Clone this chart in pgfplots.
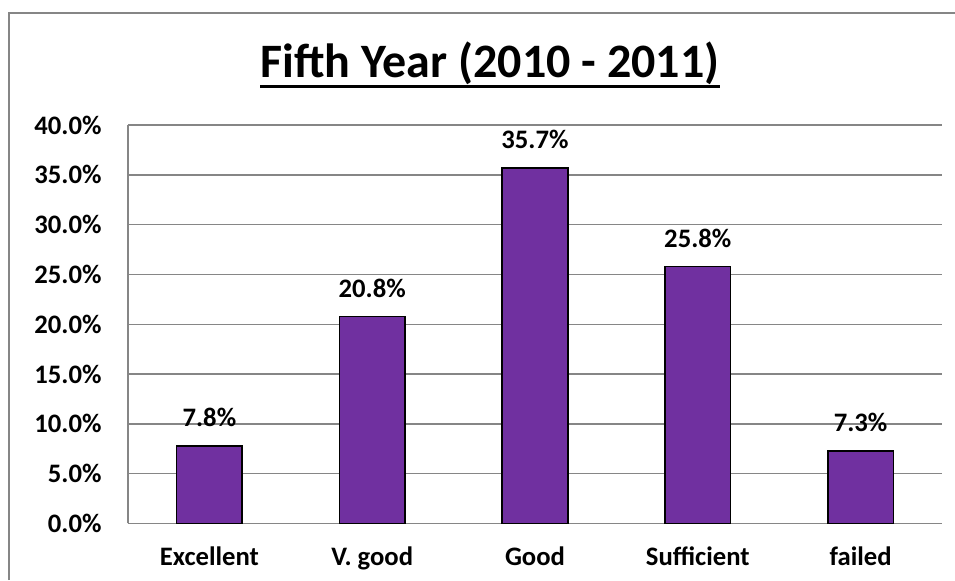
\documentclass[border=0pt]{standalone}
\usepackage{pgfplots}
\pgfplotsset{compat=1.18}
\usepackage{fontspec}
\setmainfont{Carlito}
\definecolor{barpurple}{HTML}{7030A0}
\definecolor{gridgray}{HTML}{868686}
\begin{document}
\begin{tikzpicture}
\useasboundingbox (0,0) rectangle (358.125pt,217.5pt);
\fill[white] (0,0) rectangle (358.125pt,217.5pt);
\draw[gridgray, line width=0.75pt] (3.56pt,0) -- (3.56pt,212.44pt) -- (358.125pt,212.44pt);
\node[inner sep=0pt, anchor=base, font=\fontsize{18}{20}\selectfont\bfseries] (t) at (183.75pt,188.4pt) {Fifth Year (2010 - 2011)};
\draw[black, line width=1.3pt] ([yshift=-3.4pt]t.base west) -- ([yshift=-3.4pt]t.base east);
\begin{axis}[
  at={(48pt,21.19pt)}, anchor=south west,
  scale only axis, width=305.25pt, height=149.4pt,
  ybar, bar width=24.6pt, bar shift=0pt,
  xmin=-0.5, xmax=4.5, ymin=0, ymax=40,
  xtick={0,1,2,3,4},
  xticklabels={Excellent,V. good,Good,Sufficient,failed},
  ytick={0,5,...,40},
  /pgf/number format/assume math mode=true,
  yticklabel={\pgfmathprintnumber[fixed,fixed zerofill,precision=1]{\tick}\%},
  axis x line*=bottom, axis y line*=left,
  axis line style={draw=gridgray, line width=0.55pt},
  major tick length=0pt,
  ymajorgrids, grid style={draw=gridgray, line width=0.55pt},
  tick label style={font=\fontsize{10}{12}\selectfont\bfseries, inner sep=0pt},
  yticklabel style={anchor=east, xshift=-9.75pt},
  xticklabel style={anchor=base, yshift=-15.9pt},
  nodes near coords={\pgfmathprintnumber[fixed,fixed zerofill,precision=1]{\pgfplotspointmeta}\%},
  every node near coord/.append style={font=\fontsize{10}{12}\selectfont\bfseries, inner sep=0pt, yshift=6.75pt, black},
  clip=false,
]
\addplot[fill=barpurple, draw=black, line width=0.55pt] coordinates {(0,7.8) (1,20.8) (2,35.7) (3,25.8) (4,7.3)};
\end{axis}
\end{tikzpicture}
\end{document}
